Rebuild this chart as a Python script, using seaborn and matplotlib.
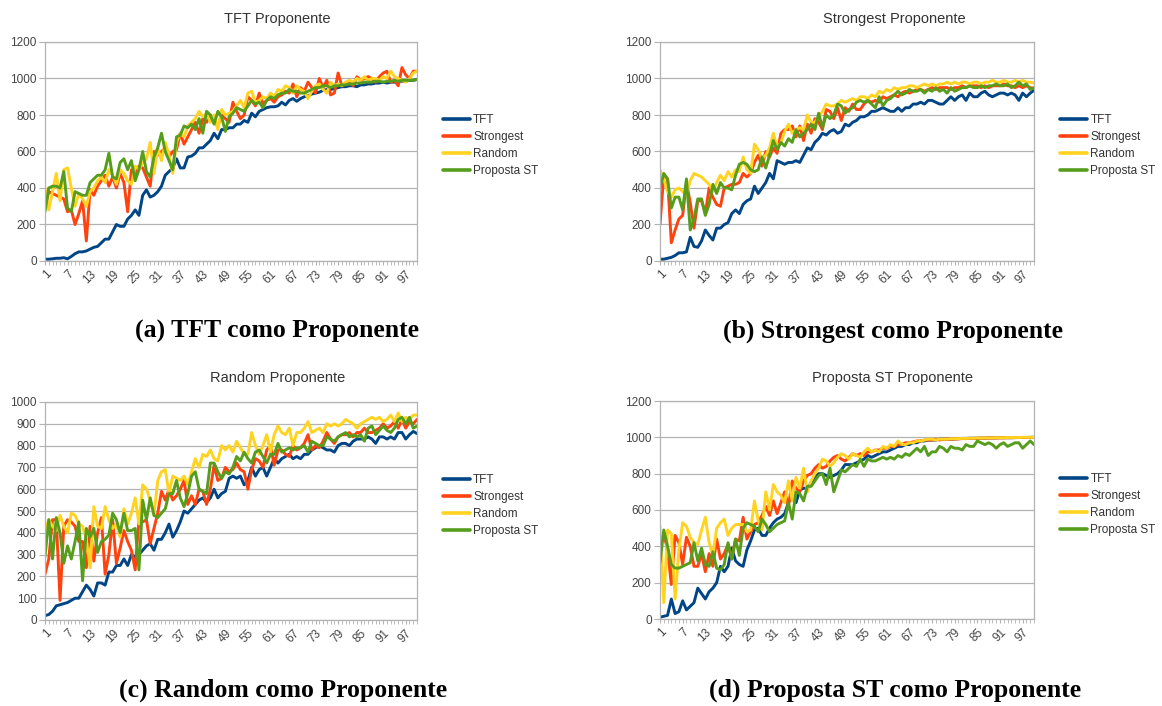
import matplotlib
matplotlib.use("Agg")
import matplotlib.pyplot as plt
import pandas as pd
import seaborn as sns

rodadas = list(range(1, 101))
estrategias = ["TFT", "Strongest", "Random", "Proposta ST"]
cores = ["#004586", "#ff420e", "#ffd320", "#579d1c"]
marcas_x = list(range(1, 101, 6))

# (a) TFT como proponente
a_tft = [10, 10, 12, 15, 15, 18, 12, 25, 40, 50,
         50, 55, 65, 75, 80, 100, 120, 120, 160, 200,
         190, 190, 230, 250, 280, 250, 360, 390, 350, 360,
         380, 410, 470, 490, 510, 560, 510, 510, 570, 575,
         590, 620, 620, 640, 660, 700, 670, 720, 720, 730,
         730, 750, 750, 770, 760, 810, 790, 820, 830, 840,
         845, 845, 850, 870, 855, 880, 890, 875, 890, 900,
         905, 915, 920, 925, 935, 940, 940, 945, 950, 955,
         955, 960, 960, 955, 965, 965, 970, 970, 975, 975,
         980, 975, 980, 980, 985, 985, 985, 990, 990, 995]
a_strongest = [290, 380, 370, 360, 350, 340, 270, 280, 200, 260,
               330, 110, 390, 360, 410, 440, 470, 410, 460, 400,
               480, 430, 270, 500, 480, 520, 510, 460, 410, 600,
               580, 600, 620, 570, 600, 610, 700, 640, 680, 720,
               760, 700, 780, 760, 800, 760, 740, 800, 780, 760,
               870, 820, 780, 800, 900, 880, 850, 920, 860, 880,
               890, 870, 900, 910, 930, 920, 970, 900, 950, 930,
               980, 950, 920, 1000, 950, 990, 910, 920, 1030, 960,
               970, 980, 960, 1010, 990, 1000, 1010, 1000, 980, 1010,
               1030, 1040, 980, 990, 960, 1060, 1020, 1000, 1040, 1040]
a_random = [400, 280, 380, 480, 330, 500, 510, 400, 300, 370,
            340, 300, 380, 400, 440, 460, 430, 500, 470, 420,
            500, 480, 440, 420, 520, 500, 540, 560, 650, 480,
            620, 550, 650, 580, 480, 650, 700, 680, 740, 760,
            780, 820, 790, 810, 760, 800, 720, 830, 800, 810,
            820, 850, 880, 840, 920, 930, 870, 880, 900, 890,
            920, 900, 940, 930, 960, 950, 920, 960, 940, 930,
            890, 930, 960, 970, 940, 920, 980, 960, 970, 960,
            980, 990, 980, 1000, 990, 1010, 990, 1000, 1000, 990,
            1010, 1000, 1040, 1010, 1000, 990, 980, 1000, 1030, 1040]
a_proposta = [270, 400, 410, 410, 400, 490, 290, 270, 380, 370,
              360, 360, 430, 450, 470, 470, 500, 590, 460, 450,
              540, 560, 500, 550, 440, 500, 600, 490, 460, 570,
              620, 700, 600, 550, 500, 680, 690, 740, 730, 750,
              720, 780, 700, 820, 800, 750, 820, 790, 710, 790,
              810, 840, 830, 820, 850, 880, 860, 870, 840, 880,
              900, 890, 910, 920, 920, 940, 930, 930, 920, 920,
              930, 940, 950, 950, 960, 960, 950, 960, 960, 965,
              965, 970, 970, 975, 975, 980, 980, 980, 985, 985,
              980, 985, 985, 990, 985, 990, 990, 990, 990, 995]

# (b) Strongest como proponente
b_tft = [10, 10, 15, 20, 30, 45, 45, 50, 130, 80,
         75, 110, 170, 140, 115, 180, 180, 200, 210, 260,
         280, 260, 310, 330, 340, 410, 370, 400, 430, 480,
         450, 550, 540, 530, 540, 540, 550, 540, 580, 620,
         610, 650, 670, 700, 690, 710, 720, 700, 710, 750,
         740, 760, 770, 790, 790, 800, 820, 820, 830, 840,
         830, 820, 820, 840, 820, 840, 840, 860, 860, 870,
         860, 880, 880, 870, 860, 860, 880, 900, 880, 900,
         910, 880, 920, 900, 900, 920, 930, 910, 900, 910,
         920, 920, 910, 920, 910, 880, 920, 900, 920, 935]
b_strongest = [200, 470, 450, 100, 170, 230, 250, 430, 320, 180,
               330, 330, 260, 400, 350, 310, 300, 400, 410, 420,
               420, 430, 480, 460, 480, 540, 580, 520, 600, 570,
               620, 590, 700, 720, 720, 740, 680, 740, 660, 750,
               700, 780, 760, 720, 830, 820, 780, 840, 770, 840,
               820, 860, 830, 830, 860, 880, 870, 880, 870, 900,
               890, 900, 910, 900, 920, 930, 920, 930, 940, 940,
               930, 940, 950, 940, 950, 950, 950, 940, 950, 950,
               960, 950, 960, 960, 960, 950, 960, 950, 960, 960,
               960, 970, 960, 960, 950, 960, 950, 960, 950, 945]
b_random = [500, 450, 380, 350, 390, 400, 380, 360, 440, 480,
            470, 460, 440, 420, 380, 430, 470, 440, 490, 460,
            500, 490, 570, 500, 480, 640, 610, 560, 580, 620,
            700, 620, 650, 710, 750, 700, 720, 730, 720, 800,
            760, 760, 790, 820, 860, 850, 850, 860, 880, 870,
            880, 890, 880, 900, 900, 890, 910, 900, 930, 920,
            940, 930, 950, 940, 950, 950, 960, 960, 950, 960,
            970, 960, 970, 960, 970, 970, 980, 970, 980, 970,
            980, 980, 970, 980, 980, 970, 980, 980, 990, 980,
            980, 990, 980, 980, 990, 980, 990, 980, 980, 975]
b_proposta = [400, 480, 450, 290, 350, 350, 280, 450, 170, 230,
              340, 340, 250, 310, 420, 370, 430, 400, 400, 390,
              470, 530, 540, 530, 500, 490, 500, 570, 510, 580,
              660, 610, 650, 630, 670, 650, 720, 680, 700, 720,
              750, 720, 810, 730, 800, 780, 800, 860, 850, 810,
              830, 840, 870, 880, 870, 880, 860, 840, 900, 850,
              880, 890, 910, 930, 910, 920, 940, 930, 930, 940,
              920, 940, 930, 950, 930, 940, 920, 950, 930, 940,
              950, 950, 960, 950, 950, 960, 950, 960, 960, 970,
              960, 960, 970, 950, 960, 980, 960, 970, 940, 950]

# (c) Random como proponente
c_tft = [20, 25, 40, 65, 70, 75, 80, 90, 100, 100,
         130, 160, 140, 110, 170, 170, 160, 220, 220, 250,
         250, 280, 250, 300, 290, 300, 320, 340, 350, 320,
         370, 370, 400, 440, 380, 410, 450, 500, 490, 510,
         530, 550, 560, 540, 560, 600, 560, 580, 590, 650,
         660, 650, 660, 620, 640, 700, 660, 690, 700, 660,
         700, 740, 720, 740, 750, 760, 740, 750, 740, 760,
         760, 780, 790, 800, 790, 780, 780, 770, 800, 810,
         810, 800, 820, 830, 830, 830, 840, 830, 810, 840,
         840, 830, 840, 830, 860, 860, 830, 850, 865, 855]
c_strongest = [210, 280, 460, 460, 90, 430, 460, 450, 430, 360,
               360, 240, 430, 270, 400, 470, 210, 300, 460, 260,
               330, 410, 360, 320, 230, 460, 450, 460, 350, 420,
               490, 590, 550, 600, 550, 570, 600, 640, 530, 570,
               530, 600, 590, 530, 600, 710, 640, 650, 700, 680,
               690, 720, 690, 680, 600, 690, 740, 730, 700, 780,
               800, 710, 780, 780, 760, 750, 800, 780, 790, 810,
               850, 780, 800, 790, 820, 860, 830, 810, 840, 850,
               850, 860, 840, 860, 860, 880, 860, 860, 870, 880,
               900, 880, 890, 910, 880, 920, 880, 910, 900, 920]
c_random = [410, 460, 430, 410, 480, 430, 400, 490, 480, 440,
            430, 370, 240, 520, 430, 420, 520, 460, 420, 440,
            380, 510, 440, 490, 560, 440, 620, 600, 550, 480,
            640, 680, 690, 580, 660, 650, 640, 660, 620, 680,
            740, 700, 760, 750, 780, 740, 730, 800, 780, 800,
            770, 820, 790, 760, 760, 860, 800, 760, 800, 850,
            770, 850, 890, 860, 850, 880, 800, 860, 860, 880,
            910, 860, 870, 880, 860, 900, 890, 900, 890, 900,
            920, 910, 900, 880, 900, 910, 920, 930, 920, 930,
            910, 920, 940, 910, 950, 910, 930, 920, 940, 940]
c_proposta = [290, 460, 280, 470, 400, 260, 340, 280, 360, 450,
              180, 420, 380, 420, 310, 360, 370, 390, 490, 460,
              400, 490, 410, 410, 420, 230, 550, 460, 560, 480,
              470, 490, 510, 580, 580, 640, 560, 520, 580, 660,
              680, 600, 590, 580, 720, 720, 680, 650, 680, 670,
              700, 750, 730, 770, 740, 720, 770, 780, 750, 720,
              760, 760, 810, 770, 780, 790, 780, 790, 790, 800,
              770, 820, 810, 800, 800, 840, 830, 820, 840, 850,
              860, 840, 850, 840, 850, 820, 880, 890, 850, 870,
              890, 870, 860, 880, 920, 930, 900, 930, 880, 890]

# (d) Proposta ST como proponente
d_tft = [10, 15, 20, 110, 30, 40, 100, 50, 70, 90,
         170, 140, 110, 150, 170, 200, 290, 260, 290, 390,
         320, 300, 290, 380, 430, 490, 500, 460, 460, 500,
         530, 550, 560, 580, 640, 680, 640, 710, 720, 720,
         750, 780, 800, 800, 790, 780, 790, 800, 820, 850,
         850, 850, 860, 870, 880, 900, 890, 900, 910, 920,
         920, 930, 940, 950, 950, 960, 960, 970, 970, 980,
         980, 985, 985, 985, 990, 990, 990, 990, 992, 992,
         994, 994, 995, 995, 995, 996, 996, 997, 997, 997,
         998, 998, 998, 998, 999, 999, 999, 999, 1000, 1000]
d_strongest = [400, 470, 380, 190, 460, 420, 300, 450, 400, 290,
               290, 360, 260, 360, 290, 440, 330, 360, 410, 330,
               440, 430, 560, 440, 480, 520, 530, 570, 620, 570,
               650, 580, 640, 700, 620, 760, 720, 700, 760, 790,
               800, 830, 850, 830, 840, 870, 890, 900, 880, 870,
               890, 910, 900, 910, 900, 920, 920, 930, 930, 940,
               940, 950, 950, 960, 960, 970, 970, 975, 980, 980,
               985, 985, 985, 990, 985, 990, 990, 990, 990, 992,
               993, 993, 994, 994, 995, 995, 996, 996, 996, 997,
               997, 997, 998, 998, 998, 999, 999, 999, 999, 1000]
d_random = [510, 90, 490, 470, 110, 380, 530, 510, 450, 420,
            410, 490, 560, 420, 350, 500, 530, 550, 460, 500,
            520, 520, 520, 480, 490, 650, 540, 490, 700, 600,
            740, 700, 680, 640, 760, 650, 780, 720, 830, 700,
            760, 800, 830, 880, 870, 840, 860, 890, 910, 900,
            880, 910, 900, 890, 920, 940, 920, 930, 920, 950,
            940, 960, 950, 980, 960, 960, 970, 970, 980, 980,
            985, 990, 990, 985, 990, 990, 990, 992, 993, 993,
            994, 994, 995, 995, 996, 996, 997, 997, 997, 998,
            998, 998, 999, 999, 999, 999, 1000, 1000, 1000, 1000]
d_proposta = [310, 490, 400, 300, 280, 280, 290, 300, 310, 420,
              320, 390, 300, 290, 370, 280, 270, 300, 420, 330,
              440, 350, 500, 530, 520, 510, 480, 550, 520, 480,
              500, 520, 530, 540, 640, 550, 700, 690, 650, 730,
              730, 760, 790, 800, 740, 830, 700, 760, 820, 810,
              830, 850, 840, 880, 840, 880, 870, 870, 880, 890,
              880, 890, 880, 900, 890, 910, 900, 920, 940, 920,
              950, 900, 920, 920, 950, 940, 920, 950, 940, 940,
              930, 960, 950, 950, 980, 970, 960, 970, 960, 940,
              960, 970, 950, 960, 970, 970, 940, 960, 980, 960]

paineis = [
    ("TFT Proponente", "(a) TFT como Proponente",
     [a_tft, a_strongest, a_random, a_proposta], 1200, 200,
     (45, 42, 417, 261), 277, 19, 277, 331),
    ("Strongest Proponente", "(b) Strongest como Proponente",
     [b_tft, b_strongest, b_random, b_proposta], 1200, 200,
     (660, 42, 1034, 261), 894, 19, 893, 331),
    ("Random Proponente", "(c) Random como Proponente",
     [c_tft, c_strongest, c_random, c_proposta], 1000, 100,
     (45, 402, 417, 620), 278, 378, 283, 690),
    ("Proposta ST Proponente", "(d) Proposta ST como Proponente",
     [d_tft, d_strongest, d_random, d_proposta], 1200, 200,
     (660, 401, 1034, 619), 893, 378, 895, 690),
]

sns.set_style("white")
plt.rcParams["font.family"] = ["Liberation Sans", "DejaVu Sans"]

W, H = 1162, 706
fig = plt.figure(figsize=(W / 100, H / 100), dpi=100)
cinza = "#b3b3b3"

for titulo, legenda, dados, ymax, passo, (l, t, r, b), tx, ty, cx, cy in paineis:
    ax = fig.add_axes([l / W, 1 - b / H, (r - l) / W, (b - t) / H])
    df = pd.DataFrame({
        "rodada": rodadas * len(estrategias),
        "valor": sum(dados, []),
        "estrategia": [e for e in estrategias for _ in rodadas],
    })
    sns.lineplot(data=df, x="rodada", y="valor", hue="estrategia",
                 hue_order=estrategias, palette=cores, linewidth=2.1,
                 estimator=None, sort=False, ax=ax)
    sns.move_legend(ax, "upper left", bbox_to_anchor=(1.07, 0.67),
                    frameon=False, title=None, fontsize=8.5,
                    handlelength=2.3, handletextpad=0.25,
                    labelspacing=0.42, borderpad=0, borderaxespad=0)
    for txt in ax.get_legend().get_texts():
        txt.set_color("#333333")
    for h in ax.get_legend().legend_handles:
        h.set_linewidth(2.6)

    ax.set_xlim(1, 100)
    ax.set_ylim(0, ymax)
    ax.set_yticks(range(0, ymax + 1, passo))
    ax.set_xticks(marcas_x)
    ax.set_xticks(rodadas, minor=True)
    ax.set_xlabel("")
    ax.set_ylabel("")
    ax.set_axisbelow(True)
    ax.yaxis.grid(True, color=cinza, linewidth=0.9)
    ax.xaxis.grid(False)
    for sp in ax.spines.values():
        sp.set_color(cinza)
        sp.set_linewidth(0.9)
    ax.tick_params(axis="both", which="both", color=cinza, labelcolor="#444444",
                   labelsize=8.5, direction="out")
    ax.tick_params(axis="y", length=4, pad=2)
    ax.tick_params(axis="x", which="major", length=3, pad=2)
    ax.tick_params(axis="x", which="minor", length=3)
    ax.tick_params(axis="x", which="both", bottom=True)
    ax.tick_params(axis="y", left=True)
    for lbl in ax.get_xticklabels():
        lbl.set_rotation(45)
        lbl.set_ha("right")
        lbl.set_va("top")
        lbl.set_rotation_mode("anchor")

    fig.text(tx / W, 1 - ty / H, titulo, ha="center", va="center",
             fontsize=10.5, color="#333333")
    fig.text(cx / W, 1 - cy / H, legenda, ha="center", va="center",
             fontsize=18.5, fontweight="bold", family="Liberation Serif",
             color="black")

fig.savefig("out.png", dpi=100, facecolor="white")
